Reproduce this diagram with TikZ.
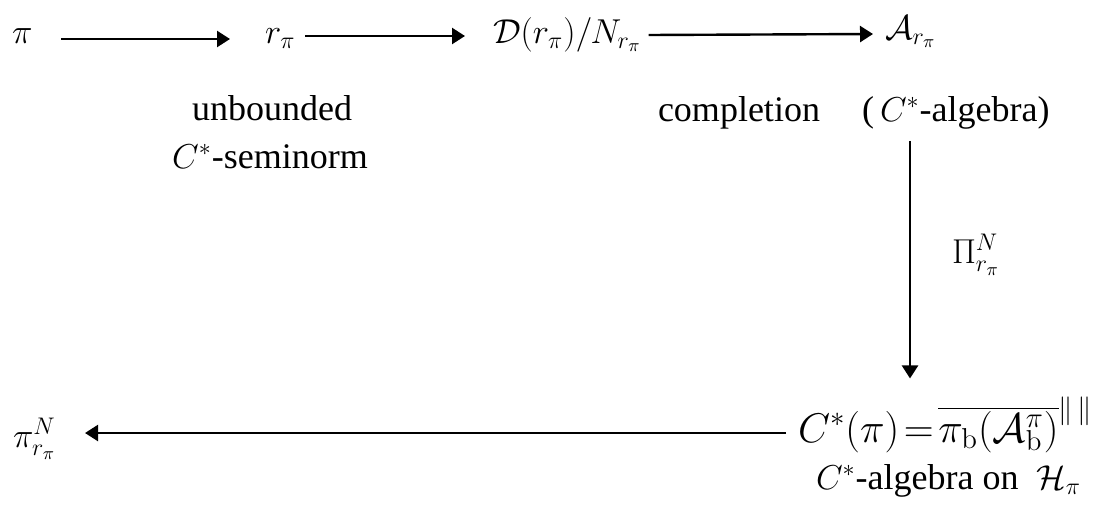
\documentclass[tikz,border=0pt]{standalone}
\usepackage[no-math]{fontspec}
\setmainfont{Liberation Serif}
\usetikzlibrary{arrows.meta}
\begin{document}
\begin{tikzpicture}[x=0.5pt,y=-0.5pt,
  every node/.style={inner sep=0pt,outer sep=0pt,font=\fontsize{18}{21}\selectfont},
  big/.style={font=\fontsize{20}{24}\selectfont},
  arr/.style={line width=1.2pt,-{Triangle[length=6.5pt,width=8pt]}}]
\useasboundingbox (0,0) rectangle (1095,509);
% top row
\node[anchor=base west] (pi) at (12,43) {$\pi$};
\node[anchor=base west] (r) at (265,43) {$r_\pi$};
\node[anchor=base west] (D) at (493,43) {$\mathcal{D}(r_\pi)/N_{r_\pi}$};
\node[anchor=base west] (A) at (885,39) {$\mathcal{A}_{r_\pi}$};
% labels
\node[anchor=base] (l1) at (272,120) {unbounded};
\node[anchor=base] (l2) at (270,168) {$C^*$-seminorm};
\node[anchor=base west] (l3) at (658,121) {completion};
\node[anchor=base west] (l4) at (862,121) {(\,$C^*$-algebra)};
\node[anchor=base west] (P) at (952,263) {$\Pi^N_{r_\pi}$};
% bottom row
\node[anchor=base west,big] (F) at (798,442) {$C^*(\pi)\!=\!\overline{\pi_{\mathrm b}\bigl(\mathcal{A}^{\pi}_{\mathrm b}\bigr)}^{\|\,\|}$};
\node[anchor=base west] (l5) at (816,489) {$C^*$-algebra on\ \ $\mathcal{H}_\pi$};
\node[anchor=base west] (pN) at (13,447) {$\pi^N_{r_\pi}$};
\coordinate (vx) at (910,0);
% arrows
\draw[arr] ([shift={(29,-4)}]pi.base east) -- ([shift={(-35,-4)}]r.base west);
\draw[arr] ([shift={(10,-7)}]r.base east) -- ([shift={(-28,-7)}]D.base west);
\draw[arr] ([shift={(7,-8)}]D.base east) -- ([shift={(-12,-5)}]A.base west);
\draw[arr] ([yshift=-6pt]l4.south -| vx) -- ([yshift=9pt]F.north -| vx);
\draw[arr] ([shift={(-12,-9)}]F.base west) -- ([shift={(29,-14)}]pN.base east);
\end{tikzpicture}
\end{document}
